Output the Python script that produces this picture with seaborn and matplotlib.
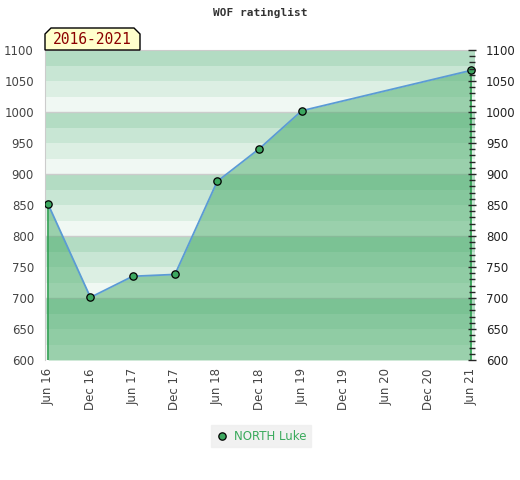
import numpy as np
import pandas as pd
import matplotlib
matplotlib.use("Agg")
import matplotlib.pyplot as plt
import seaborn as sns
from matplotlib.patches import Polygon

# datos
tick_labels = ["Jun 16", "Dec 16", "Jun 17", "Dec 17", "Jun 18", "Dec 18",
               "Jun 19", "Dec 19", "Jun 20", "Dec 20", "Jun 21"]
fechas = ["Jun 16", "Dec 16", "Jun 17", "Dec 17", "Jun 18", "Dec 18", "Jun 19", "Jun 21"]
rating = [851, 701, 735, 738, 888, 941, 1002, 1067]
jugador = "NORTH Luke"
periodo = "2016-2021"

meses = {lab: 6 * i for i, lab in enumerate(tick_labels)}
df = pd.DataFrame({"mes": [meses[f] for f in fechas], "rating": rating})

sns.set_style("white")
fig = plt.figure(figsize=(5.2, 4.8), dpi=100)
ax = fig.add_axes([45 / 520, 120 / 480, 430 / 520, 310 / 480])

# bandas de fondo
tonos = ["#f0f8f3", "#dcefe3", "#c8e6d4", "#b3dcc3"]
for y0 in range(600, 1100, 25):
    ax.axhspan(y0, y0 + 25, color=tonos[(y0 // 25) % 4], lw=0, zorder=0)
for y0 in range(700, 1100, 100):
    ax.axhline(y0, color="#cccccc", lw=1, zorder=0.5)

# area bajo la curva
ax.fill_between(df["mes"], df["rating"], 600, color="#45aa67", alpha=0.5,
                lw=0, zorder=1)
ax.vlines([df["mes"].iloc[0], df["mes"].iloc[-1]], 600,
          [df["rating"].iloc[0], df["rating"].iloc[-1]],
          color="#2e9e50", lw=1.2, zorder=2)

sns.lineplot(data=df, x="mes", y="rating", ax=ax, color="#5b9bd5", lw=1.3, zorder=3)
sns.scatterplot(data=df, x="mes", y="rating", ax=ax, color="#3da860",
                edgecolor="black", linewidth=0.9, s=28, zorder=4)

ax.set_xlim(-0.45, 60.6)
ax.set_ylim(600, 1100)
ax.set_xticks([meses[t] for t in tick_labels])
ax.set_xticklabels(tick_labels, rotation=90, fontsize=8.5, color="#444444")
ax.set_yticks(range(600, 1101, 50))
ax.tick_params(axis="y", length=0, labelsize=8.5, labelcolor="#444444", pad=8)
ax.tick_params(axis="x", length=0, pad=6)
ax.set_xlabel("")
ax.set_ylabel("")
for s in ["right", "bottom"]:
    ax.spines[s].set_visible(False)
ax.spines["top"].set_color("#cccccc")
ax.spines["left"].set_color("#cccccc")

# eje derecho con marcas
ax2 = fig.add_axes([45 / 520, 120 / 480, 427 / 520, 310 / 480], frameon=False)
ax2.patch.set_visible(False)
ax2.set_ylim(600, 1100)
ax2.set_xticks([])
ax2.yaxis.tick_right()
ax2.set_yticks(range(600, 1101, 50))
ax2.set_yticks(range(600, 1101, 10), minor=True)
ax2.tick_params(axis="y", which="major", direction="inout", length=6, width=1,
                labelsize=8.5, labelcolor="#222222", pad=7)
ax2.tick_params(axis="y", which="minor", direction="inout", length=4, width=1)

fig.text(0.5, 1 - 13 / 480, "WOF ratinglist", ha="center", va="center",
         fontsize=8, fontweight="bold", family="DejaVu Sans Mono", color="#333333")

# etiqueta del periodo
px = [(45, 50), (45, 34), (51, 28), (134, 28), (140, 34), (140, 50)]
etiqueta = Polygon([(x / 520, 1 - y / 480) for x, y in px], closed=True,
                   transform=fig.transFigure, facecolor="#ffffcc",
                   edgecolor="black", lw=1, zorder=5)
fig.patches.append(etiqueta)
fig.text(92.5 / 520, 1 - 40 / 480, periodo, ha="center", va="center",
         fontsize=10.5, family="DejaVu Sans Mono", color="#8b0000", zorder=6)

# leyenda
h = ax.scatter([], [], color="#3da860", edgecolor="black", linewidth=0.9, s=28)
leg = fig.legend([h], [jugador], loc="center", bbox_to_anchor=(261 / 520, 1 - 436 / 480),
                 frameon=True, fontsize=8.5, handletextpad=0.4, borderpad=0.35,
                 handlelength=1.2, fancybox=False)
leg.get_frame().set_facecolor("#eeeeee")
leg.get_frame().set_edgecolor("#eeeeee")
for t in leg.get_texts():
    t.set_color("#3aaa5c")

fig.savefig("out.png", dpi=100)
